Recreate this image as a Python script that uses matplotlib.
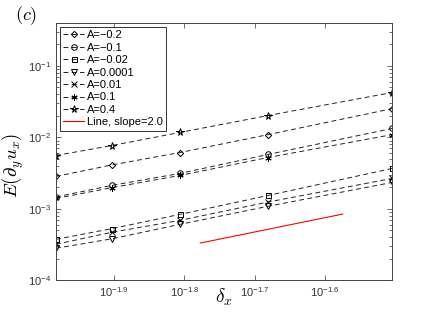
import matplotlib
matplotlib.use("Agg")
import matplotlib.pyplot as plt
from matplotlib.ticker import FixedLocator, FixedFormatter, NullLocator, LogLocator

plt.rcParams['mathtext.fontset'] = 'cm'
plt.rcParams['font.family'] = ['Liberation Sans', 'DejaVu Sans']

dx = [1/96, 1/80, 1/64, 1/48, 1/32]
labels = ['A=\u22120.2', 'A=\u22120.1', 'A=\u22120.02', 'A=0.0001', 'A=0.01', 'A=0.1', 'A=0.4']
markers = ['D', 'o', 's', 'v', 'x', (6, 2, 0), '*']
marker_sizes = [3.2, 4, 3.6, 4, 4, 4.5, 5.5]
err_m02 = [2.83e-3, 4.10e-3, 6.12e-3, 1.09e-2, 2.52e-2]
err_m01 = [1.46e-3, 2.12e-3, 3.12e-3, 5.75e-3, 1.33e-2]
err_m002 = [3.72e-4, 5.25e-4, 8.32e-4, 1.53e-3, 3.66e-3]
err_00001 = [2.79e-4, 3.78e-4, 6.03e-4, 1.08e-3, 2.33e-3]
err_001 = [3.17e-4, 4.67e-4, 6.86e-4, 1.24e-3, 2.65e-3]
err_01 = [1.39e-3, 1.97e-3, 2.92e-3, 5.21e-3, 1.09e-2]
err_04 = [5.56e-3, 7.67e-3, 1.17e-2, 2.02e-2, 4.24e-2]
series = [err_m02, err_m01, err_m002, err_00001, err_001, err_01, err_04]
ref_x = [0.0167, 0.0266]
ref_y = [3.3e-4, 8.4e-4]
xticks = [10**-1.9, 10**-1.8, 10**-1.7, 10**-1.6]
xticklabels = ['$\\mathregular{10^{-1.9}}$', '$\\mathregular{10^{-1.8}}$',
               '$\\mathregular{10^{-1.7}}$', '$\\mathregular{10^{-1.6}}$']
yticks = [1e-4, 1e-3, 1e-2, 1e-1]
yticklabels = ['$\\mathregular{10^{-4}}$', '$\\mathregular{10^{-3}}$',
               '$\\mathregular{10^{-2}}$', '$\\mathregular{10^{-1}}$']

fig = plt.figure(figsize=(4.32, 3.15), dpi=100)
ax = fig.add_axes([0.1296, 0.111, 0.7778, 0.816])

for y, lab, m, ms in zip(series, labels, markers, marker_sizes):
    ax.plot(dx, y, linestyle=(0, (5, 3.5)), color='#222222', lw=0.7,
            marker=m, ms=ms, mfc='none', mec='black', mew=0.7, label=lab)
ax.plot(ref_x, ref_y, color='red', lw=0.8, label='Line, slope=2.0')

ax.set_xscale('log')
ax.set_yscale('log')
ax.set_xlim(1/96, 1/32)
ax.set_ylim(1e-4, 0.4)
ax.xaxis.set_major_locator(FixedLocator(xticks))
ax.xaxis.set_major_formatter(FixedFormatter(xticklabels))
ax.xaxis.set_minor_locator(NullLocator())
ax.yaxis.set_major_locator(FixedLocator(yticks))
ax.yaxis.set_major_formatter(FixedFormatter(yticklabels))
ax.yaxis.set_minor_locator(LogLocator(base=10, subs=range(2, 10), numticks=20))
ax.tick_params(which='both', direction='in', top=True, right=True, labelsize=8, colors='#333333')
ax.tick_params(which='major', length=3.5, width=0.5)
ax.tick_params(which='minor', length=2, width=0.5)
ax.tick_params(axis='x', pad=4)
for s in ax.spines.values():
    s.set_color('#444444')
    s.set_linewidth(0.7)

ax.set_xlabel('$\\delta_x$', fontsize=14)
ax.xaxis.set_label_coords(0.5, -0.025)
ax.set_ylabel('$E(\\partial_y u_x)$', fontsize=13.5)
ax.yaxis.set_label_coords(-0.088, 0.445)
fig.text(0.035, 0.935, '$(c)$', fontsize=13)

leg = ax.legend(loc='upper left', fontsize=8, handlelength=1.9, handletextpad=0.25,
                labelspacing=0.22, borderpad=0.3, borderaxespad=0.35, fancybox=False,
                edgecolor='#333333', framealpha=1)
leg.get_frame().set_linewidth(0.7)

fig.savefig('out.png', dpi=100)
